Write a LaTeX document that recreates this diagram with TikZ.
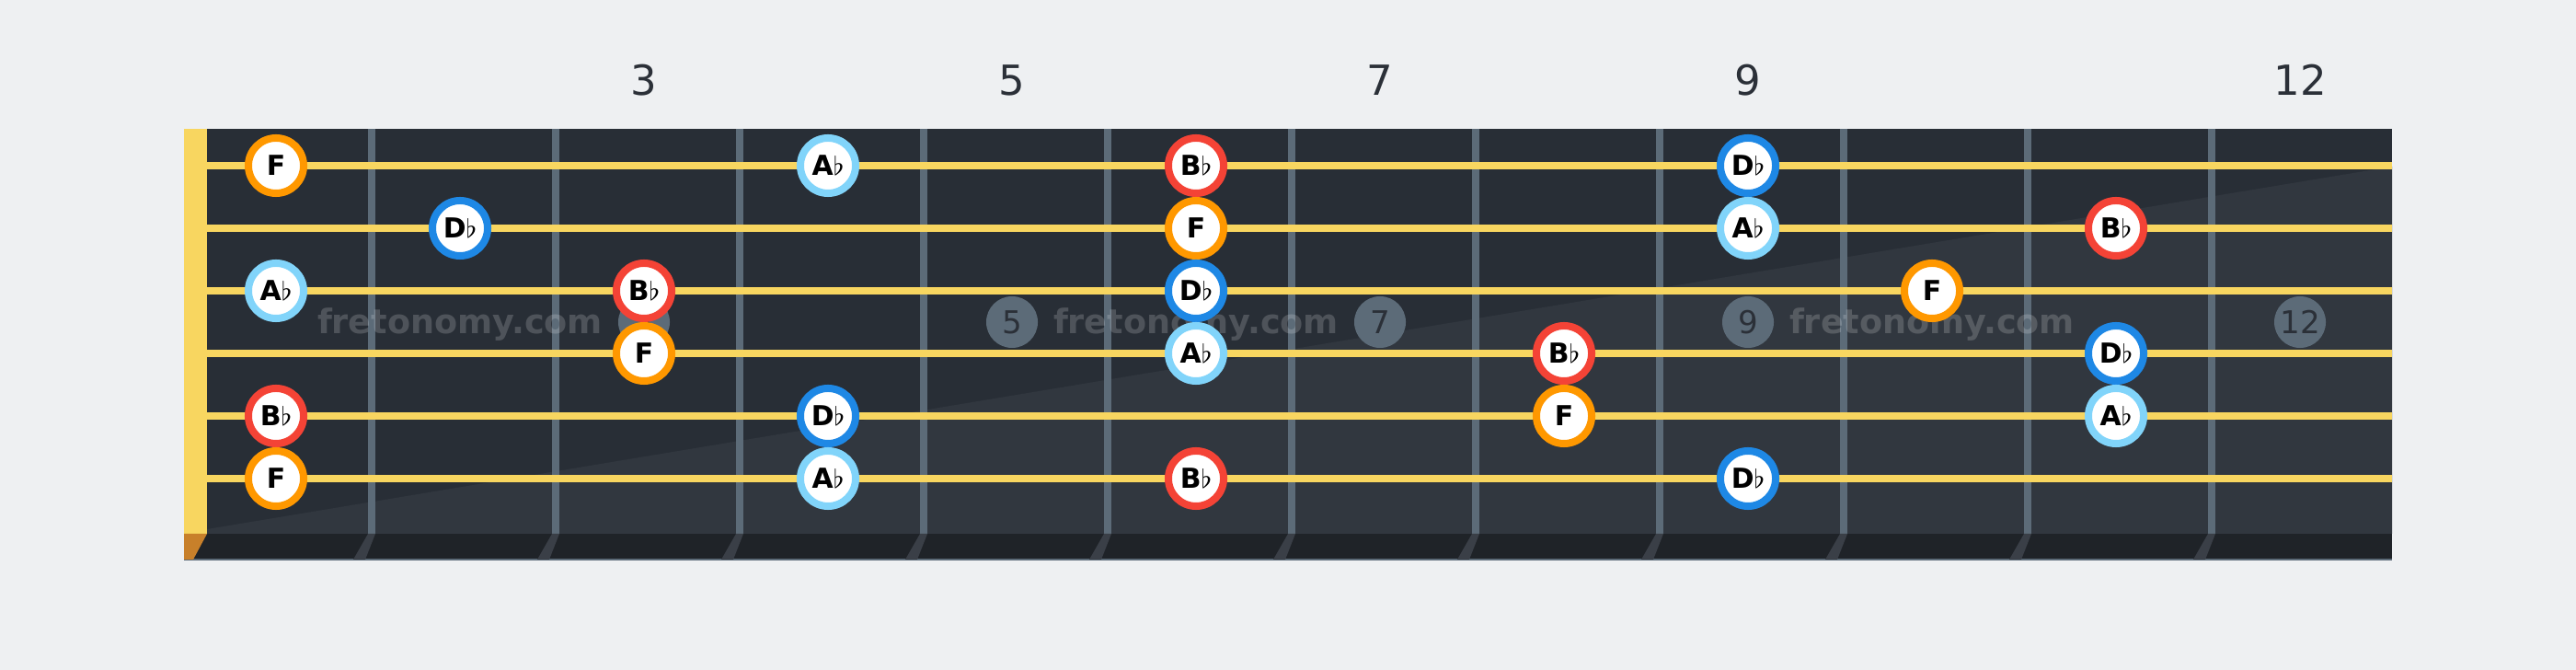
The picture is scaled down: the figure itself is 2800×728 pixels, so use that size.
\documentclass[tikz,border=0pt]{standalone}
\usepackage{fontspec}
\setmainfont{DejaVu Sans}

\definecolor{bg}{HTML}{EEF0F2}
\definecolor{board}{HTML}{282E36}
\definecolor{boardlight}{HTML}{31373F}
\definecolor{edge}{HTML}{1F2328}
\definecolor{fretc}{HTML}{5C6B78}
\definecolor{fretside}{HTML}{3A3F47}
\definecolor{stringc}{HTML}{F8D660}
\definecolor{nutside}{HTML}{C8802A}
\definecolor{label}{HTML}{2B3038}
\definecolor{cF}{HTML}{FF9800}
\definecolor{cD}{HTML}{1E88E5}
\definecolor{cA}{HTML}{81D4FA}
\definecolor{cB}{HTML}{F44336}

\begin{document}
\begin{tikzpicture}[x=0.01cm, y=-0.01cm,
    note/.style={circle, draw=#1, line width=0.08cm, fill=white, minimum size=0.6cm,
        inner sep=0pt, font=\fontsize{8.5}{8.5}\selectfont\bfseries},
    dot/.style={circle, fill=fretc, minimum size=0.56cm, inner sep=0pt, text=label,
        font=\fontsize{9.7}{9.7}\selectfont},
    fretno/.style={text=label, font=\fontsize{12.8}{13}\selectfont},
    wmark/.style={text=white, text opacity=0.18, anchor=base,
        font=\fontsize{10.4}{10.4}\selectfont\bfseries}]

            % the frame
            \fill[bg] (0,0) rectangle (2800,728);
            \useasboundingbox (0,0) rectangle (2800,728);

            % the board
            \fill[board] (225,140) rectangle (2600,580);
            \fill[boardlight] (225,575) -- (2600,181) -- (2600,580) -- (225,580) -- cycle;
            \fill[edge] (200,580) rectangle (2600,608);
            \draw[fretc, line width=0.015cm] (200,608) -- (2600,608);

            % frets
            \foreach \i in {1,...,11} {
                \fill[fretc] ({200+200*\i},140) rectangle ({208+200*\i},580);
                \fill[fretside] ({200+200*\i},580) -- ({208+200*\i},580)
                    -- ({197+200*\i},608) -- ({184+200*\i},608) -- cycle;
            }

            % nut
            \fill[stringc] (200,140) rectangle (225,580);
            \fill[nutside] (200,580) -- (225,580) -- (210,608) -- (200,608) -- cycle;

            % strings
            \foreach \s in {1,...,6} {
                \fill[stringc] (225,{108+68*\s}) rectangle (2600,{116+68*\s});
            }

            % inlays and fret numbers
            \foreach \f in {3,5,7,9,12} {
                \node[dot] (dot\f) at ({100+200*\f},350) {\f};
                \node[fretno] (fret\f) at ({100+200*\f},87) {\f};
            }

            % watermark
            \foreach \x in {500,1300,2100} {
                \node[wmark] (wm\x) at (\x,363) {fretonomy.com};
            }

            % notes
            \foreach \s/\f/\lab/\col in {
                1/1/F/cF, 1/4/A$\flat$/cA, 1/6/B$\flat$/cB, 1/9/D$\flat$/cD,
                2/2/D$\flat$/cD, 2/6/F/cF, 2/9/A$\flat$/cA, 2/11/B$\flat$/cB,
                3/1/A$\flat$/cA, 3/3/B$\flat$/cB, 3/6/D$\flat$/cD, 3/10/F/cF,
                4/3/F/cF, 4/6/A$\flat$/cA, 4/8/B$\flat$/cB, 4/11/D$\flat$/cD,
                5/1/B$\flat$/cB, 5/4/D$\flat$/cD, 5/8/F/cF, 5/11/A$\flat$/cA,
                6/1/F/cF, 6/4/A$\flat$/cA, 6/6/B$\flat$/cB, 6/9/D$\flat$/cD} {
                \node[note=\col] (n\s-\f) at ({100+200*\f},{112+68*\s}) {\lab};
            }

        \end{tikzpicture}
\end{document}
